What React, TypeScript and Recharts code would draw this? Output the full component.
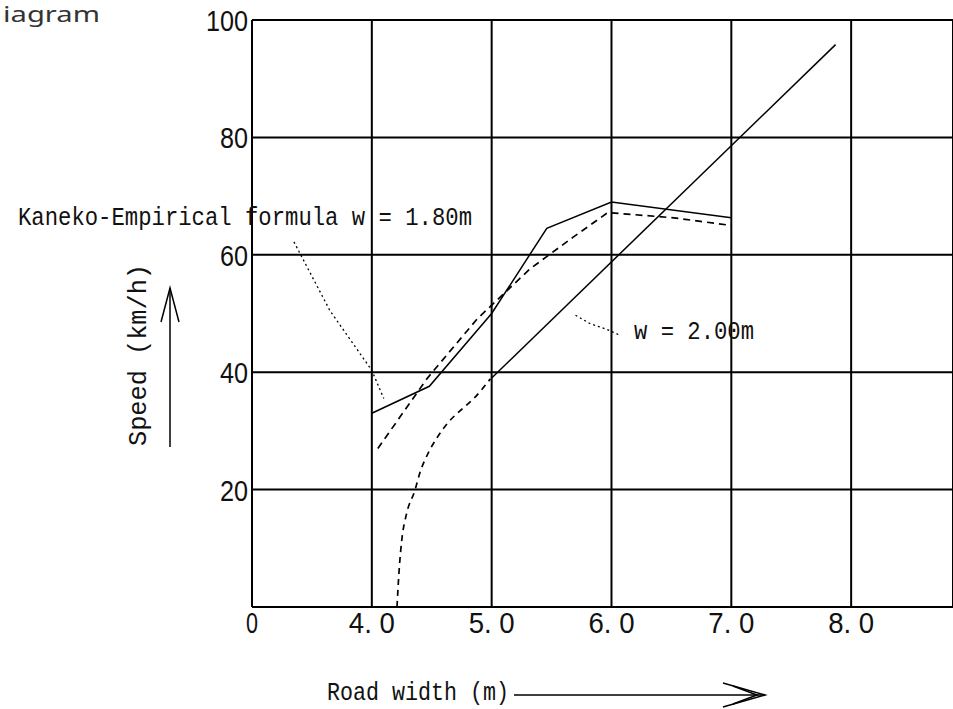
import React from 'react';
import { LineChart, Line, XAxis, YAxis, CartesianGrid } from 'recharts';

// axis ticks ("0" stands at the 3.0 position of the broken axis)
const xTicks = [3, 4, 5, 6, 7, 8];
const xTickLabels = ['0', '4. 0', '5. 0', '6. 0', '7. 0', '8. 0'];
const yTicks = [0, 20, 40, 60, 80, 100];
const yTickLabels = ['', '20', '40', '60', '80', '100'];

// Kaneko empirical formula, w = 1.80m (solid)
const kanekoX = [4.0, 4.48, 5.0, 5.46, 6.0, 7.0];
const kanekoY = [33, 37.6, 50, 64.5, 69, 66.3];

// companion dashed curve
const dashedX = [4.05, 4.46, 4.88, 5.32, 5.68, 5.97, 6.52, 7.0];
const dashedY = [27, 38.9, 49.1, 57.6, 63, 67.2, 66.3, 65];

// w = 2.00m straight part (solid)
const straightX = [5.0, 7.87];
const straightY = [39, 95.8];

// w = 2.00m lower dashed curve
const curveX = [4.21, 4.23, 4.25, 4.29, 4.36, 4.4, 4.47, 4.54, 4.64, 4.74, 4.85, 4.99];
const curveY = [0, 6.9, 11.4, 15.9, 19.9, 22.8, 26.2, 28.7, 31.5, 33.5, 35.5, 38.9];

// dotted leader lines from the annotations
const leader1X = [3.35, 3.65, 4.0, 4.1];
const leader1Y = [62.2, 50.5, 40.3, 35.5];
const leader2X = [5.7, 5.82, 5.96, 6.07];
const leader2Y = [49.7, 48.3, 47.3, 46.3];

const zip = (xs: number[], ys: number[]) => xs.map((x, i) => ({ x, y: ys[i] }));

const tickFont = '"Liberation Sans Narrow", "Liberation Sans", sans-serif';
const monoFont = '"Liberation Mono", "DejaVu Sans Mono", monospace';

const XTick = (props: any) => {
  const { x, y, payload } = props;
  const label = xTickLabels[xTicks.indexOf(payload.value)];
  if (!label) return null;
  return (
    <text x={x} y={y + 26} textAnchor="middle" fontSize={29} fontFamily={tickFont} fill="#111"
      textLength={label.length === 1 ? 12 : 46} lengthAdjust="spacingAndGlyphs">
      {label}
    </text>
  );
};

const YTick = (props: any) => {
  const { x, y, payload } = props;
  const label = yTickLabels[yTicks.indexOf(payload.value)];
  if (!label) return null;
  return (
    <text x={x - 4} y={y + 11} textAnchor="end" fontSize={29} fontFamily={tickFont} fill="#111"
      textLength={label.length * 14} lengthAdjust="spacingAndGlyphs">
      {label}
    </text>
  );
};

export default function App() {
  return (
    <div style={{ position: 'absolute', left: 0, top: 0, width: 953, height: 709, background: '#fff' }}>
      <LineChart width={953} height={709} margin={{ top: 20, right: 0, bottom: 0, left: 0 }}>
        <CartesianGrid stroke="#000" strokeWidth={2} />
        <XAxis
          type="number"
          dataKey="x"
          domain={[3, 8.85]}
          ticks={xTicks}
          interval={0}
          height={102}
          tickSize={0}
          tickMargin={0}
          tick={<XTick />}
          axisLine={{ stroke: '#000', strokeWidth: 2 }}
          tickLine={false}
        />
        <YAxis
          type="number"
          dataKey="y"
          domain={[0, 100]}
          ticks={yTicks}
          interval={0}
          width={252}
          tickSize={0}
          tickMargin={0}
          tick={<YTick />}
          axisLine={{ stroke: '#000', strokeWidth: 2 }}
          tickLine={false}
        />
        <Line data={zip(kanekoX, kanekoY)} dataKey="y" type="linear" stroke="#000" strokeWidth={1.5}
          dot={false} isAnimationActive={false} />
        <Line data={zip(dashedX, dashedY)} dataKey="y" type="linear" stroke="#000" strokeWidth={1.7}
          strokeDasharray="7 5" dot={false} isAnimationActive={false} />
        <Line data={zip(straightX, straightY)} dataKey="y" type="linear" stroke="#000" strokeWidth={1.5}
          dot={false} isAnimationActive={false} />
        <Line data={zip(curveX, curveY)} dataKey="y" type="monotone" stroke="#000" strokeWidth={1.7}
          strokeDasharray="6 5" dot={false} isAnimationActive={false} />
        <Line data={zip(leader1X, leader1Y)} dataKey="y" type="linear" stroke="#000" strokeWidth={1.3}
          strokeDasharray="2 3" dot={false} isAnimationActive={false} />
        <Line data={zip(leader2X, leader2Y)} dataKey="y" type="linear" stroke="#000" strokeWidth={1.3}
          strokeDasharray="2 3" dot={false} isAnimationActive={false} />
      </LineChart>

      <svg width={953} height={709} style={{ position: 'absolute', left: 0, top: 0, pointerEvents: 'none' }}>
        <text x={3} y={22} fontSize={21} fontFamily='"Noto Sans", sans-serif' fill="#333"
          textLength={97} lengthAdjust="spacingAndGlyphs">iagram</text>

        <text x={18} y={225} fontSize={25} fontFamily={monoFont} fill="#111"
          textLength={454} lengthAdjust="spacingAndGlyphs">Kaneko-Empirical formula w = 1.80m</text>
        <text x={634} y={339} fontSize={25} fontFamily={monoFont} fill="#111"
          textLength={120} lengthAdjust="spacingAndGlyphs">w = 2.00m</text>

        <text transform="translate(146,355) rotate(-90)" textAnchor="middle" fontSize={26} fontFamily={monoFont}
          fill="#111" textLength={182} lengthAdjust="spacingAndGlyphs">Speed (km/h)</text>
        <g stroke="#000" strokeWidth={1.5} fill="none">
          <line x1={170} y1={447} x2={170} y2={288} />
          <polyline points="161,322 170,288 179,322" />
        </g>

        <text x={327} y={700} fontSize={26} fontFamily={monoFont} fill="#111"
          textLength={182} lengthAdjust="spacingAndGlyphs">Road width (m)</text>
        <g stroke="#000" strokeWidth={1.5} fill="none">
          <line x1={514} y1={695} x2={765} y2={695} />
          <polyline points="723,683 765,695 723,707" />
          <polyline points="733,686 757,695 733,704" />
        </g>
      </svg>
    </div>
  );
}
